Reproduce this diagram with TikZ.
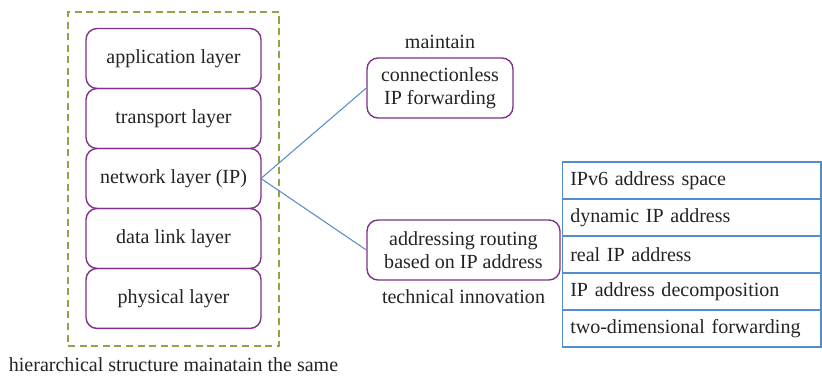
\documentclass[tikz,border=0pt]{standalone}
\usepackage{fontspec}
\setmainfont{Liberation Serif}
\usetikzlibrary{positioning}

\definecolor{layerpurple}{RGB}{128,48,140}
\definecolor{linkblue}{RGB}{84,141,204}
\definecolor{framegreen}{RGB}{140,165,70}
\definecolor{textgray}{RGB}{35,35,35}

\begin{document}
\begin{tikzpicture}[
    x=0.02cm, y=-0.02cm,
    font=\fontsize{11.4}{13.2}\selectfont,
    text=textgray,
    layer/.style={
        draw=layerpurple,
        line width=0.8pt,
        outer sep=0pt,
        rounded corners=0.22cm,
        minimum width=3.5cm,
        minimum height=1.2cm,
        align=center
    },
    idea/.style={
        draw=layerpurple,
        line width=0.8pt,
        rounded corners=0.22cm,
        minimum height=1.2cm,
        align=center
    },
    cell/.style={
        draw=linkblue,
        line width=0.6pt,
        outer sep=0pt,
        minimum width=5.18cm,
        minimum height=0.74cm,
        text width=4.85cm,
        align=left
    },
    link/.style={draw=linkblue, line width=0.6pt}
]
    \useasboundingbox (0,0) rectangle (822,376);

    %% frame round the stack
    \node[draw=framegreen, line width=0.8pt, dash pattern=on 4pt off 2.6pt,
          minimum width=4.22cm, minimum height=6.68cm] (frame) at (173.5,179) {};
    \node (hier) at (173.5,365) {hierarchical structure mainatain the same};

    %% protocol stack
    \node[layer] (app) at (173.5,58.5) {application layer};
    \node[layer, below=0pt of app] (trans) {transport layer};
    \node[layer, below=0pt of trans] (net) {network layer (IP)};
    \node[layer, below=0pt of net] (link) {data link layer};
    \node[layer, below=0pt of link] (phys) {physical layer};

    %% what IP keeps and changes
    \node[idea, minimum width=2.92cm] (fwd) at (440,88) {connectionless\\IP forwarding};
    \node (keep) at (440,42) {maintain};
    \node[idea, minimum width=3.86cm] (route) at (463.5,250) {addressing routing\\based on IP address};
    \node (innov) at (463.5,297) {technical innovation};

    %% innovations
    \node[cell] (v6) at (691.5,180.5) {IPv6 address space};
    \node[cell, below=0pt of v6] (dyn) {dynamic IP address};
    \node[cell, below=0pt of dyn] (real) {real IP address};
    \node[cell, below=0pt of real] (decomp) {IP address decomposition};
    \node[cell, below=0pt of decomp] (twod) {two-dimensional forwarding};

    %% links
    \draw[link] (net.east) -- (fwd.west);
    \draw[link] (net.east) -- (route.west);
\end{tikzpicture}
\end{document}
